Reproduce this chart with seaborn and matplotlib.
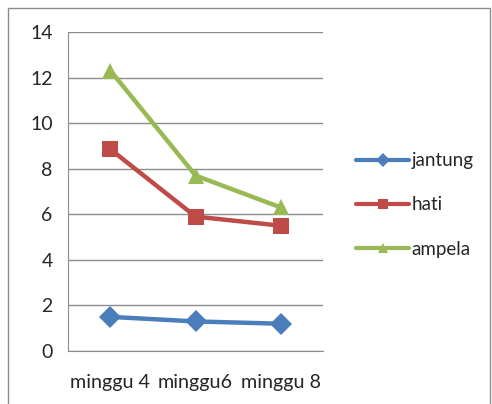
import pandas as pd
import matplotlib
matplotlib.use("Agg")
import matplotlib.pyplot as plt
import seaborn as sns
from matplotlib.patches import Rectangle
from matplotlib.lines import Line2D

# --- data ---
weeks = ['minggu 4', 'minggu6', 'minggu 8']
jantung = [1.5, 1.3, 1.2]
hati = [8.85, 5.9, 5.5]
ampela = [12.3, 7.7, 6.3]

series = ['jantung', 'hati', 'ampela']
colors = {'jantung': '#4A7EBB', 'hati': '#BE4B48', 'ampela': '#98B954'}
markers = {'jantung': 'D', 'hati': 's', 'ampela': '^'}

df = pd.DataFrame({
    'pos': [0.5, 1.5, 2.5] * 3,
    'nilai': jantung + hati + ampela,
    'seri': [s for s in series for _ in weeks],
})

sns.set_style("white")
plt.rcParams['font.family'] = ['Lato', 'DejaVu Sans']

fig = plt.figure(figsize=(4.92, 4.04), dpi=100)
ax = fig.add_axes([0.138, 0.131, 0.519, 0.790])

sns.lineplot(data=df, x='pos', y='nilai', hue='seri', style='seri',
             palette=colors, markers=markers, dashes=False,
             linewidth=3.2, markersize=11, markeredgewidth=0, ax=ax,
             legend=False)

ax.set_xlim(0, 3)
ax.set_ylim(0, 14)
ax.set_yticks(range(0, 15, 2))
ax.set_xticks([0, 1, 2, 3])
ax.set_xticklabels([])
for i, w in enumerate(weeks):
    ax.text(i + 0.5, -1.4, w, ha='center', va='center', fontsize=14.2)
ax.grid(axis='y', color='#8c8c8c', linewidth=1)
ax.set_axisbelow(True)
for side in ['top', 'right']:
    ax.spines[side].set_visible(False)
ax.spines['left'].set_color('#8c8c8c')
ax.spines['bottom'].set_color('#8c8c8c')
ax.tick_params(axis='y', length=6, color='#8c8c8c', labelsize=14, pad=5)
ax.tick_params(axis='x', length=6, color='#8c8c8c', direction='out')
ax.set_xlabel('')
ax.set_ylabel('')

handles = [Line2D([], [], color=colors[s], marker=markers[s], linewidth=3,
                  markersize=7, markeredgewidth=0) for s in series]
ax.legend(handles, series, loc='center left', bbox_to_anchor=(1.1, 0.458),
          frameon=False, fontsize=13.5, handlelength=2.8, handletextpad=0.15,
          labelspacing=1.45, borderaxespad=0)

fig.patches.append(Rectangle((0.016, -0.02), 0.98, 1.0, transform=fig.transFigure,
                             fill=False, edgecolor='#8c8c8c', linewidth=1))

fig.savefig('out.png', dpi=100)
